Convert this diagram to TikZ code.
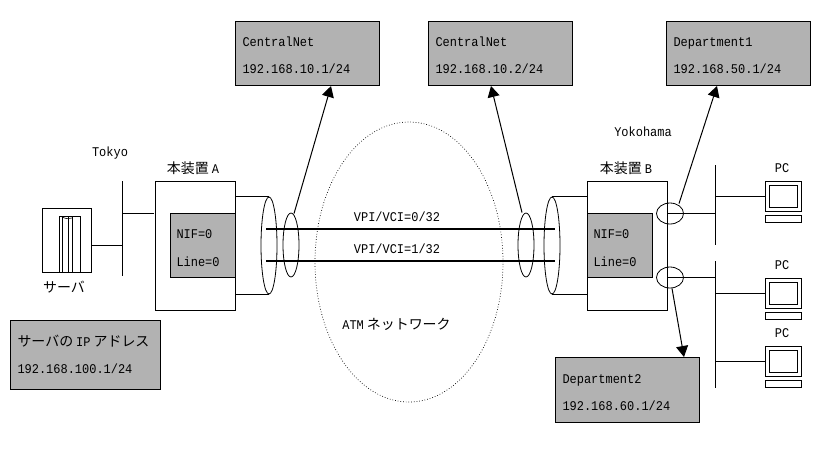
\documentclass[tikz,border=0pt]{standalone}
\usepackage{fontspec}
\setmainfont[FakeStretch=0.9]{Liberation Mono}
\newfontfamily\cjk[Scale=1.05]{Noto Sans CJK JP}
\usepackage{xcolor}
\usetikzlibrary{arrows.meta,positioning,shapes.geometric,calc}
\definecolor{panelgray}{HTML}{B2B2B2}
\newcommand{\toprule}{\rule{0pt}{15pt}}
\tikzset{
  lbl/.style={inner sep=0pt, font=\fontsize{13.3}{15}\selectfont},
  infobox/.style={draw, fill=panelgray, line width=1pt, minimum height=64pt, inner xsep=7pt, inner ysep=0pt,
    text width=#1-14pt, align=left, anchor=west, font=\fontsize{13.3}{27}\selectfont},
  infobox/.default=144pt,
  unitbox/.style={draw, line width=1pt, minimum width=80pt, minimum height=129pt, inner sep=0pt},
  nifbox/.style={draw, fill=panelgray, line width=1pt, minimum height=64pt, text width=52pt, align=left,
    inner xsep=6.5pt, inner ysep=0pt, font=\fontsize{13.3}{28}\selectfont},
  ring/.style={draw, ellipse, line width=0.8pt, inner sep=0pt},
  bigring/.style={ring, minimum width=16pt, minimum height=97pt},
  midring/.style={ring, minimum width=16pt, minimum height=64pt},
  portring/.style={ring, minimum width=27pt, minimum height=21pt},
  wire/.style={line width=1pt},
  vcline/.style={line width=2.3pt},
  callout/.style={line width=1pt, -{Triangle[length=11pt,width=12pt]}},
}
\newcommand{\pcicon}[2]{
  \node[draw, wire, minimum width=36pt, minimum height=30pt, inner sep=0pt] (#1) at (783,#2) {};
  \node[draw, wire, minimum width=28pt, minimum height=22pt, inner sep=0pt] at (#1.center) {};
  \node[draw, wire, minimum width=36pt, minimum height=7pt, inner sep=0pt, below=3pt of #1] {};
}
\begin{document}
\begin{tikzpicture}[x=1pt,y=-1pt]
  \useasboundingbox (0,0) rectangle (819,451);
  % Dotted cloud
  \node[draw, ellipse, dotted, line width=0.7pt, minimum width=188pt, minimum height=280pt, inner sep=0pt] (atm) at (409,262) {};
  \node[lbl] (atmlabel) at (396.5,324) {ATM\hspace{3pt}{\cjk ネットワーク}};
  % Units
  \node[unitbox] (boxA) at (195,245.5) {};
  \node[unitbox] (boxB) at (627,245.5) {};
  \node[nifbox, anchor=east] (nifA) at (boxA.east) {\toprule NIF=0\\Line=0};
  \node[nifbox, anchor=west] (nifB) at (boxB.west) {\toprule NIF=0\\Line=0};
  \node[lbl] (nameA) at (193,168) {{\cjk 本装置}\hspace{3pt}A};
  \node[lbl] (nameB) at (626,168) {{\cjk 本装置}\hspace{3pt}B};
  % Rings on the line
  \node[bigring] (ringA) at (269,245.5) {};
  \node[midring] (tapA) at (291,245) {};
  \node[bigring] (ringB) at (552,245.5) {};
  \node[midring] (tapB) at (526,245) {};
  \draw[wire] (ringA.north -| boxA.east) -- (ringA.north);
  \draw[wire] (ringA.south -| boxA.east) -- (ringA.south);
  \draw[wire] (ringB.north) -- (ringB.north -| boxB.west);
  \draw[wire] (ringB.south) -- (ringB.south -| boxB.west);
  % Virtual circuits
  \coordinate (vcAu) at (266,229);
  \coordinate (vcBu) at (555,229);
  \coordinate (vcAd) at (266,261);
  \coordinate (vcBd) at (555,261);
  \draw[vcline] (vcAu) -- (vcBu);
  \draw[vcline] (vcAd) -- (vcBd);
  \node[lbl] (vcup) at (397,217) {VPI/VCI=0/32};
  \node[lbl] (vcdown) at (397,249) {VPI/VCI=1/32};
  % Server side
  \node[draw, wire, minimum width=49pt, minimum height=64pt, inner sep=0pt] (server) at (66.5,240) {};
  \foreach \colx in {59,62,68,72,80}
    \draw[line width=0.8pt] (\colx,216) -- (\colx,272);
  \draw[line width=0.8pt] (59,216) -- (80,216);
  \draw[line width=0.6pt] (62,217) .. controls (66,219) and (69,219) .. (72,218);
  \node[lbl] (serverlabel) at (64,287) {\cjk サーバ};
  \node[lbl] (tokyo) at (110,153) {Tokyo};
  \coordinate (busT) at (122,181);
  \coordinate (busTend) at (122,276);
  \coordinate (srvport) at (91,245);
  \coordinate (unitport) at (154,213);
  \draw[wire] (busT) -- (busTend);
  \draw[wire] (srvport) -- (srvport -| busT);
  \draw[wire] (unitport -| busT) -- (unitport);
  \node[infobox=150pt, minimum height=69pt] (ipbox) at (10,354.5) {{\cjk サーバの}\hspace{3pt}IP\hspace{3pt}{\cjk アドレス}\\192.168.100.1/24};
  % Address panels
  \node[infobox] (cnetA) at (235,53) {\toprule CentralNet\\192.168.10.1/24};
  \node[infobox] (cnetB) at (428,53) {\toprule CentralNet\\192.168.10.2/24};
  \node[infobox] (deptA) at (666,53) {\toprule Department1\\192.168.50.1/24};
  \node[infobox, minimum height=65pt] (deptB) at (555,389.5) {\toprule Department2\\192.168.60.1/24};
  \node[lbl] (yokohama) at (643,132) {Yokohama};
  % LAN side
  \coordinate (busU) at (715,165);
  \coordinate (busUend) at (715,245);
  \coordinate (busD) at (715,261);
  \coordinate (busDend) at (715,388);
  \draw[wire] (busU) -- (busUend);
  \draw[wire] (busD) -- (busDend);
  \node[portring] (portU) at (670,213.5) {};
  \node[portring] (portD) at (670,277.5) {};
  \draw[wire] (portU.center -| boxB.east) -- (portU.center -| busU);
  \draw[wire] (portD.center -| boxB.east) -- (portD.center -| busD);
  % PCs
  \pcicon{pcA}{196}
  \pcicon{pcB}{293}
  \pcicon{pcC}{361}
  \node[lbl] (pcAlabel) at (782,168) {PC};
  \node[lbl] (pcBlabel) at (782,265) {PC};
  \node[lbl] (pcClabel) at (782,333) {PC};
  \draw[wire] (pcA.west -| busU) -- (pcA.west);
  \draw[wire] (pcB.west -| busU) -- (pcB.west);
  \draw[wire] (pcC.west -| busU) -- (pcC.west);
  % Callouts
  \coordinate (tipcA) at (331,86);
  \coordinate (tipcB) at (491,86);
  \coordinate (tipdA) at (717,86);
  \coordinate (tipdB) at (684,357);
  \draw[callout] (tapA.north) ++(3,1) -- (tipcA);
  \draw[callout] (tapB.north) ++(-4,0) -- (tipcB);
  \draw[callout] (portU.north) ++(9,1) -- (tipdA);
  \draw[callout] (portD.south) ++(2,0) -- (tipdB);
\end{tikzpicture}
\end{document}
